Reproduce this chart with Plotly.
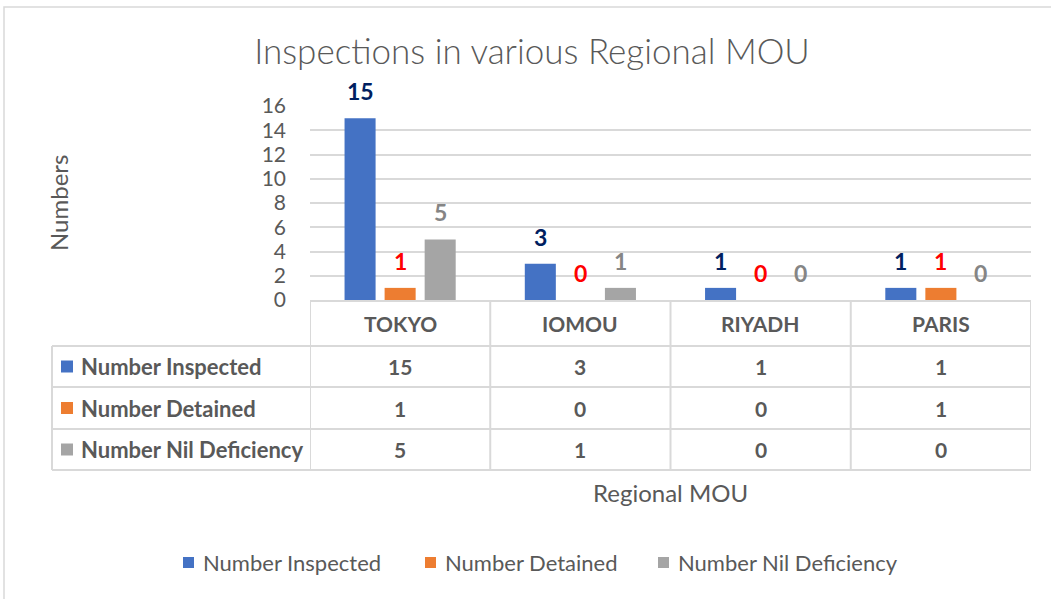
import plotly.graph_objects as go

# ---------------- data ----------------
categories = ["TOKYO", "IOMOU", "RIYADH", "PARIS"]
series_names = ["Number Inspected", "Number Detained", "Number Nil Deficiency"]
number_inspected = [15, 3, 1, 1]
number_detained = [1, 0, 0, 1]
number_nil_deficiency = [5, 1, 0, 0]
y_tick_values = [0, 2, 4, 6, 8, 10, 12, 14, 16]
chart_title = "Inspections in various Regional MOU"
y_title = "Numbers"
x_title = "Regional MOU"

# ---------------- style ----------------
series_values = [number_inspected, number_detained, number_nil_deficiency]
bar_colors = ["#4472C4", "#ED7D31", "#A5A5A5"]
label_colors = ["#002060", "#FF0000", "#858585"]
legend_square_left_px = [183, 425, 658]
TXT = "#595959"
GRID = "#D9D9D9"
FONT = "Lato"

W, H = 1051, 599
L, R, T, B = 310, 20, 106, 299
PW, PH = W - L - R, H - T - B
BARGAP = 1 / 3
BARGROUPGAP = 0.225


def px(x):
    return (x - L) / PW


def py(y):
    return (T + PH - y) / PH


fig = go.Figure()
for name, vals, col in zip(series_names, series_values, bar_colors):
    fig.add_trace(go.Bar(x=categories, y=vals, name=name, showlegend=False,
                         marker=dict(color=col, line=dict(width=0))))

annotations = []
shapes = []

# data labels above bars
cat_w = PW / len(categories)
slot = cat_w * (1 - BARGAP) / len(series_names)
for i, (vals, lc) in enumerate(zip(series_values, label_colors)):
    for c, v in zip(categories, vals):
        annotations.append(dict(
            x=c, y=v, xref="x", yref="y", text=f"<b>{v}</b>",
            showarrow=False, xshift=(i - 1) * slot, yshift=27, yanchor="middle",
            font=dict(family=FONT, size=23, color=lc)))

# data table
row_tops = [301, 346, 387, 429, 470]
line = dict(color=GRID, width=2)
shapes.append(dict(type="line", xref="paper", yref="paper", x0=0, x1=1, y0=py(row_tops[0]), y1=py(row_tops[0]), line=line, layer="above"))
for yy in row_tops[1:]:
    shapes.append(dict(type="line", xref="paper", yref="paper", x0=px(52), x1=1, y0=py(yy), y1=py(yy), line=line))
for k in range(len(categories) + 1):
    shapes.append(dict(type="line", xref="x", yref="paper", x0=k - 0.5, x1=k - 0.5,
                       y0=py(row_tops[0]), y1=py(row_tops[-1]), line=line))
shapes.append(dict(type="line", xref="paper", yref="paper", x0=px(52), x1=px(52),
                   y0=py(row_tops[1]), y1=py(row_tops[-1]), line=line))

# header
for c in categories:
    annotations.append(dict(x=c, xref="x", y=py((row_tops[0] + row_tops[1]) / 2), yref="paper",
                            text=f"<b>{c}</b>", showarrow=False, yanchor="middle",
                            font=dict(family=FONT, size=21, color=TXT)))
# rows
for r, (name, vals, col) in enumerate(zip(series_names, series_values, bar_colors)):
    yc = (row_tops[r + 1] + row_tops[r + 2]) / 2
    annotations.append(dict(x=px(79), xref="paper", y=py(yc), yref="paper", xanchor="left",
                            text=f"<b>{name}</b>", showarrow=False, yanchor="middle",
                            font=dict(family=FONT, size=22, color=TXT)))
    shapes.append(dict(type="rect", xref="paper", yref="paper", x0=px(61), x1=px(73),
                       y0=py(yc + 6), y1=py(yc - 6), fillcolor=col, line=dict(width=0)))
    for c, v in zip(categories, vals):
        annotations.append(dict(x=c, xref="x", y=py(yc), yref="paper", text=f"<b>{v}</b>",
                                showarrow=False, yanchor="middle",
                                font=dict(family=FONT, size=21, color=TXT)))

# axis titles
annotations.append(dict(x=px(58), xref="paper", xanchor="center", y=py(203), yref="paper", yanchor="middle",
                        text=y_title, textangle=-90, showarrow=False,
                        font=dict(family=FONT, size=24, color=TXT)))
annotations.append(dict(x=0.5, xref="paper", xanchor="center", y=py(492), yref="paper", yanchor="middle",
                        text=x_title, showarrow=False, font=dict(family=FONT, size=24, color=TXT)))

# bottom legend
for name, col, sx in zip(series_names, bar_colors, legend_square_left_px):
    shapes.append(dict(type="rect", xref="paper", yref="paper", x0=px(sx), x1=px(sx + 11),
                       y0=py(568), y1=py(557), fillcolor=col, line=dict(width=0)))
    annotations.append(dict(x=px(sx + 18), xref="paper", xanchor="left", y=py(562), yref="paper",
                            yanchor="middle", text=name, showarrow=False,
                            font=dict(family=FONT, size=22, color=TXT)))

# chart border
shapes.append(dict(type="rect", xref="paper", yref="paper", x0=px(4), x1=px(1070), y0=py(7), y1=py(620),
                   line=dict(color=GRID, width=1.5), fillcolor="rgba(0,0,0,0)", layer="below"))

fig.update_layout(
    width=W, height=H,
    margin=dict(l=L, r=R, t=T, b=B, autoexpand=False),
    paper_bgcolor="white", plot_bgcolor="white",
    barmode="group", bargap=BARGAP, bargroupgap=BARGROUPGAP,
    showlegend=False,
    title=dict(text=chart_title, x=532 / W, xref="container", xanchor="center",
               y=1 - 52 / H, yref="container", yanchor="middle",
               font=dict(family=FONT, size=35, color=TXT, weight=300)),
    xaxis=dict(range=[-0.5, len(categories) - 0.5], showticklabels=False, showgrid=False,
               showline=False, zeroline=False, fixedrange=True),
    yaxis=dict(range=[0, 16], tickvals=y_tick_values, showgrid=True, gridcolor=GRID, gridwidth=2,
               zeroline=False, showline=False, ticklabelstandoff=23,
               tickfont=dict(family=FONT, size=21, color=TXT)),
    annotations=annotations, shapes=shapes,
)

fig.write_html("out.html", config={"displayModeBar": False},
               post_script="document.body.style.margin='0';document.body.style.padding='0';")
